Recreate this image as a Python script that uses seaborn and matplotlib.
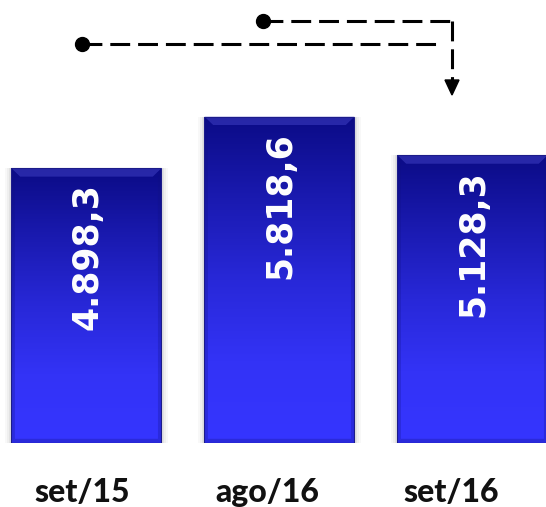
import numpy as np
import pandas as pd
import matplotlib
matplotlib.use("Agg")
import matplotlib.pyplot as plt
import seaborn as sns
from matplotlib.colors import LinearSegmentedColormap
from matplotlib.patches import Rectangle, Polygon
from matplotlib.transforms import ScaledTranslation

# Data
periods = ["set/15", "ago/16", "set/16"]
values = [4898.3, 5818.6, 5128.3]
value_labels = ["4.898,3", "5.818,6", "5.128,3"]

df = pd.DataFrame({"periodo": periods, "valor": values})

sns.set_theme(style="white")
plt.rcParams["font.family"] = ["DejaVu Sans"]

W, H = 546, 507
fig = plt.figure(figsize=(W / 100, H / 100), dpi=100)
fig.patch.set_facecolor("white")

base_px = 64
ax = fig.add_axes([0, base_px / H, 1, (H - base_px) / H])
bar_width = 0.777
sns.barplot(data=df, x="periodo", y="valor", ax=ax, width=bar_width,
            color="#2222cc", edgecolor="none", saturation=1)
ax.set_xlim(-0.448, 2.381)
ax.set_ylim(0, (H - base_px) / 0.0561)
ax.set_xlabel("")
ax.set_ylabel("")
ax.set_yticks([])
for s in ax.spines.values():
    s.set_visible(False)

# Vertical gradient fill (dark navy at the top, bright blue at the bottom)
grad_cmap = LinearSegmentedColormap.from_list(
    "barblue", ["#0b0b86", "#1a1ab0", "#2828d8", "#3333f6", "#3535ff"])
grad = np.linspace(0, 1, 256).reshape(-1, 1)
for p in ax.patches:
    x0, y0 = p.get_x(), p.get_y()
    w, h = p.get_width(), p.get_height()
    # soft shadow at the sides
    for k, a in enumerate([0.05, 0.08, 0.12]):
        off = (3 - k) * 0.012
        ax.add_patch(Rectangle((x0 - off, y0 - 30), w + 2 * off, h + 30,
                               facecolor="#888888", alpha=a, edgecolor="none",
                               zorder=0.5))
    im = ax.imshow(grad, cmap=grad_cmap, aspect="auto",
                   extent=(x0, x0 + w, y0, y0 + h), zorder=2,
                   interpolation="bicubic")
    im.set_clip_path(p)
    # bevel: lighter top rim, darker bottom and side rims
    ex, ey = 0.045, 150
    ax.add_patch(Polygon([(x0, y0 + h), (x0 + w, y0 + h), (x0 + w - ex, y0 + h - ey),
                          (x0 + ex, y0 + h - ey)], closed=True,
                         facecolor="#4a4ad0", alpha=0.45, edgecolor="none", zorder=3))
    ax.add_patch(Polygon([(x0, y0), (x0 + w, y0), (x0 + w - ex * 0.4, y0 + ey * 0.5),
                          (x0 + ex * 0.4, y0 + ey * 0.5)], closed=True,
                         facecolor="#1a1a9a", alpha=0.35, edgecolor="none", zorder=3))
    ax.add_patch(Polygon([(x0, y0), (x0 + ex * 0.4, y0 + ey * 0.5),
                          (x0 + ex * 0.4, y0 + h - ey), (x0, y0 + h)], closed=True,
                         facecolor="#101080", alpha=0.25, edgecolor="none", zorder=3))
    ax.add_patch(Polygon([(x0 + w, y0), (x0 + w - ex * 0.4, y0 + ey * 0.5),
                          (x0 + w - ex * 0.4, y0 + h - ey), (x0 + w, y0 + h)], closed=True,
                         facecolor="#101080", alpha=0.25, edgecolor="none", zorder=3))
    ax.add_patch(Rectangle((x0, y0), w, h, facecolor="none",
                           edgecolor="#1c1c8a", linewidth=0.8, zorder=3.5))

# Value labels inside the bars, rotated, anchored near the top
for i, (v, lab) in enumerate(zip(values, value_labels)):
    ax.annotate(lab, xy=(i, v), xytext=(1, -11), textcoords="offset points",
                rotation=90, ha="center", va="top", color="white",
                fontsize=25, fontweight="bold", family=["DejaVu Sans"], zorder=5)

# Category labels below the baseline
ax.tick_params(axis="x", length=0, pad=25, labelsize=23)
offsets_px = [-4, -12, -21]
for lbl, dx in zip(ax.get_xticklabels(), offsets_px):
    lbl.set_fontfamily(["Lato", "DejaVu Sans"])
    lbl.set_fontweight(900)
    lbl.set_color("#111111")
    lbl.set_transform(lbl.get_transform() + ScaledTranslation(dx / 100, 0, fig.dpi_scale_trans))

# Connector arrows above the bars (pixel coordinates)
ov = fig.add_axes([0, 0, 1, 1], facecolor="none")
ov.set_xlim(0, W)
ov.set_ylim(H, 0)
ov.axis("off")
dash = (0, (6.5, 2.6))
ov.plot([82, 437], [44, 44], color="black", lw=2.2, linestyle=dash)
ov.plot([263, 452], [20.5, 20.5], color="black", lw=2.2, linestyle=dash)
ov.plot([452, 452], [20.5, 82], color="black", lw=2.2, linestyle=dash)
ov.plot([82], [44], marker="o", color="black", markersize=10)
ov.plot([263], [20.5], marker="o", color="black", markersize=10)
ov.add_patch(Polygon([(445, 80), (459, 80), (452, 95)], closed=True,
                     facecolor="black", edgecolor="black"))

fig.savefig("out.png", dpi=100, facecolor="white")
